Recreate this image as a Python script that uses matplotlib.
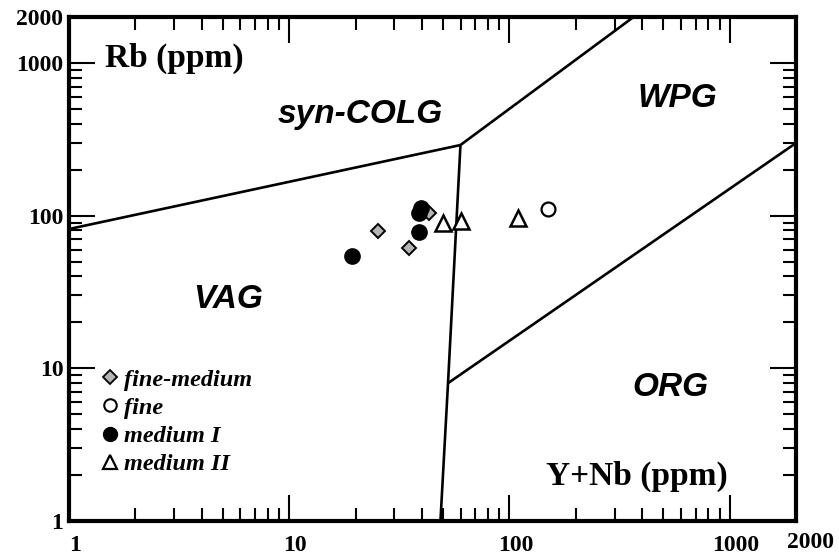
import matplotlib
matplotlib.use("Agg")
import matplotlib.pyplot as plt
from matplotlib.lines import Line2D
import matplotlib.transforms as mtransforms

# ---------------- data ----------------
fine_medium_x = [25.2, 43.0, 35.1]
fine_medium_y = [79.6, 103.5, 61.1]
fine_x = [150.0]
fine_y = [110.0]
medium1_x = [39.7, 38.9, 39.0, 19.3]
medium1_y = [113.0, 104.5, 77.8, 54.6]
medium2_x = [50.0, 60.1, 109.5]
medium2_y = [89.8, 92.6, 96.0]

# discrimination boundaries (Y+Nb, Rb)
vag_colg_x = [1, 59.9]
vag_colg_y = [81.7, 290]
colg_wpg_x = [59.9, 366]
colg_wpg_y = [290, 2000]
vag_wpg_x = [59.9, 52.6, 48.6]
vag_wpg_y = [290, 8.0, 1]
org_wpg_x = [52.6, 2000]
org_wpg_y = [8.0, 299]

x_ticks = [1, 10, 100, 1000]
x_tick_labels = ["1", "10", "100", "1000"]
y_ticks = [1, 10, 100, 1000, 2000]
y_tick_labels = ["1", "10", "100", "1000", "2000"]

serif = "Liberation Serif"
sans = "Liberation Sans"

fig = plt.figure(figsize=(8.39, 5.60), dpi=100)
ax = fig.add_axes([69 / 839, 1 - 521 / 560, (796 - 69) / 839, (521 - 17) / 560])
ax.set_xscale("log")
ax.set_yscale("log")
ax.set_xlim(1, 2000)
ax.set_ylim(1, 2000)

lw_b = 1.9
for xs, ys in [(vag_colg_x, vag_colg_y), (colg_wpg_x, colg_wpg_y),
               (vag_wpg_x, vag_wpg_y), (org_wpg_x, org_wpg_y)]:
    ax.plot(xs, ys, color="black", lw=lw_b, solid_capstyle="butt", zorder=2)

ax.plot(fine_medium_x, fine_medium_y, ls="none", marker="D", ms=7.5,
        mfc="#b4b4b4", mec="black", mew=1.4, zorder=3)
ax.plot(fine_x, fine_y, ls="none", marker="o", ms=10,
        mfc="white", mec="black", mew=1.6, zorder=3)
ax.plot(medium1_x, medium1_y, ls="none", marker="o", ms=11,
        mfc="black", mec="black", mew=1.0, zorder=3)
ax.plot(medium2_x, medium2_y, ls="none", marker="^", ms=11,
        mfc="white", mec="black", mew=1.8, zorder=3)

# spines and ticks
for s in ax.spines.values():
    s.set_linewidth(3.0)
ax.tick_params(which="both", direction="in", top=True, right=True)
ax.tick_params(which="major", length=18.5, width=1.5)
ax.tick_params(which="minor", length=9.5, width=1.5)
ax.set_xticks(x_ticks)
ax.set_xticklabels(x_tick_labels, fontfamily=serif, fontweight="bold", fontsize=17)
ax.set_yticks(y_ticks)
ax.set_yticklabels(y_tick_labels, fontfamily=serif, fontweight="bold", fontsize=17)
ax.tick_params(axis="x", pad=8)
ax.tick_params(axis="y", pad=4)
off = mtransforms.ScaledTranslation(6 / 100, -3 / 100, fig.dpi_scale_trans)
for lab in ax.get_xticklabels():
    lab.set_transform(lab.get_transform() + off)
ax.text(811 / 839, 1 - 542 / 560, "2000", transform=fig.transFigure,
        ha="center", va="center", fontfamily=serif, fontweight="bold", fontsize=17)

# axis titles inside plot
ax.text(1.46, 940, "Rb (ppm)", ha="left", va="baseline",
        fontfamily=serif, fontweight="bold", fontsize=24)
ax.text(147, 1.72, "Y+Nb (ppm)", ha="left", va="baseline",
        fontfamily=serif, fontweight="bold", fontsize=24)

# region labels
reg = dict(fontfamily=sans, fontweight="bold", fontstyle="italic", fontsize=24,
           ha="center", va="baseline")
ax.text(21, 404, "syn-COLG", **reg)
ax.text(580, 514, "WPG", **reg)
ax.text(5.28, 24.8, "VAG", **reg)
ax.text(539, 6.59, "ORG", **reg)

# legend
handles = [
    Line2D([], [], ls="none", marker="D", ms=7, mfc="#b4b4b4", mec="black", mew=1.3),
    Line2D([], [], ls="none", marker="o", ms=9, mfc="white", mec="black", mew=1.5),
    Line2D([], [], ls="none", marker="o", ms=10, mfc="black", mec="black"),
    Line2D([], [], ls="none", marker="^", ms=10, mfc="white", mec="black", mew=1.6),
]
labels = ["fine-medium", "fine", "medium I", "medium II"]
leg = ax.legend(handles, labels, loc="upper left", bbox_to_anchor=(0.026, 0.326),
                frameon=False, handlelength=0.8, handletextpad=0.2,
                labelspacing=0.25, borderpad=0,
                prop=dict(family=serif, weight="bold", style="italic", size=17.5))

fig.savefig("out.png", dpi=100)
